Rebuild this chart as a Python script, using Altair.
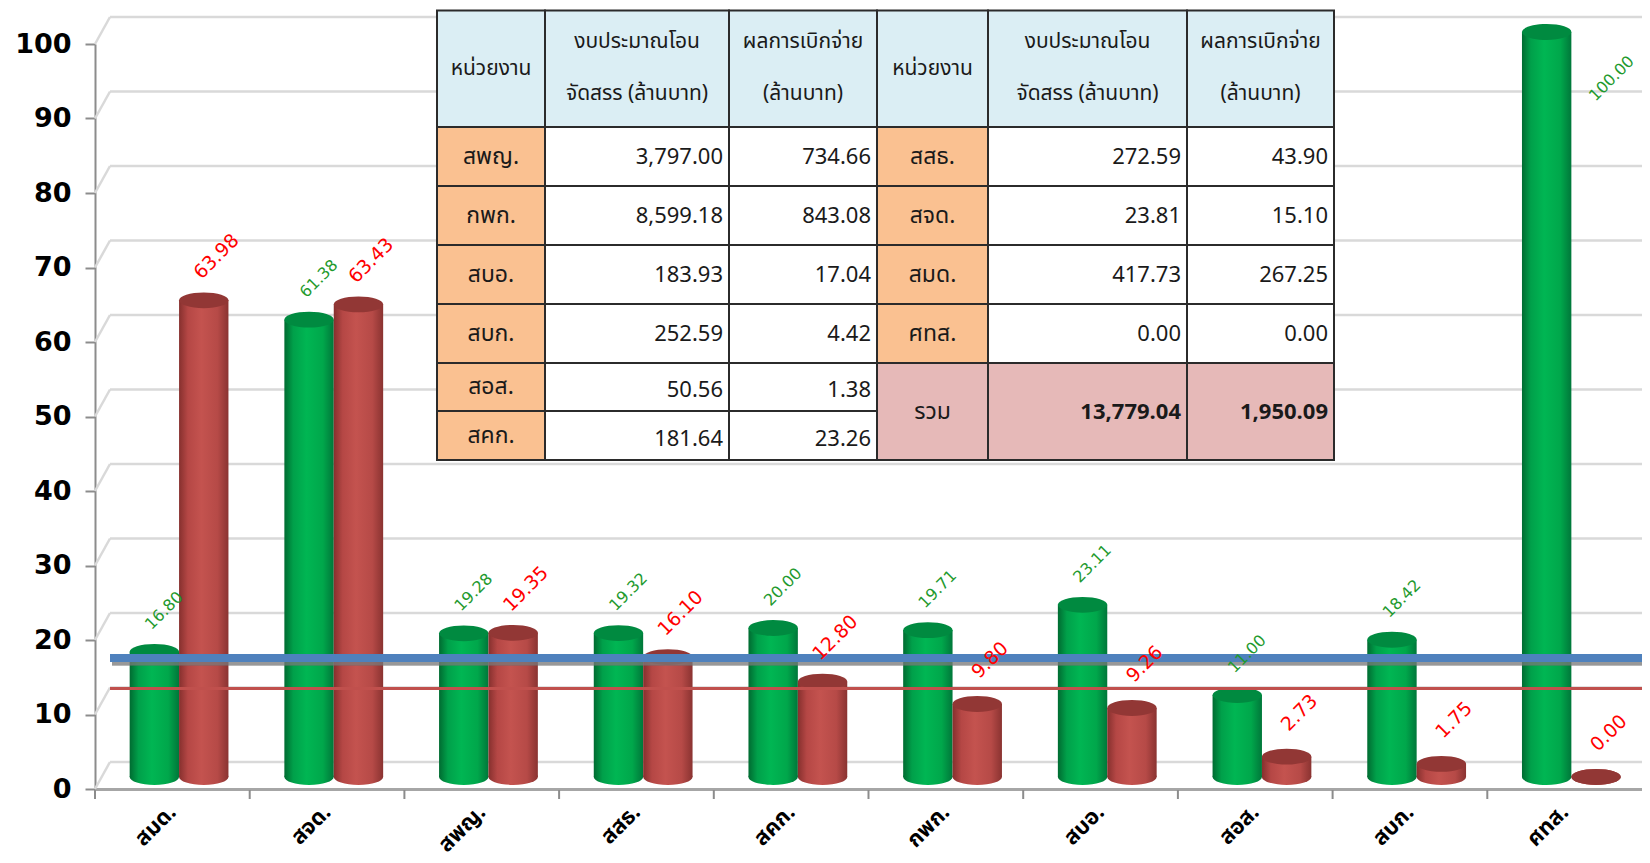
import altair as alt
import pandas as pd

# ---------------- data ----------------
categories = ["สมด.", "สจด.", "สพญ.", "สสธ.", "สคก.", "กพก.", "สบอ.", "สอส.", "สบก.", "ศทส."]
green_values = [16.80, 61.38, 19.28, 19.32, 20.00, 19.71, 23.11, 11.00, 18.42, 100.00]
red_values = [63.98, 63.43, 19.35, 16.10, 12.80, 9.80, 9.26, 2.73, 1.75, 0.00]
y_ticks = [0, 10, 20, 30, 40, 50, 60, 70, 80, 90, 100]
blue_line_value = 17.6
red_line_value = 13.5

table_left_units = ["สพญ.", "กพก.", "สบอ.", "สบก.", "สอส.", "สคก."]
table_left_budget = [3797.00, 8599.18, 183.93, 252.59, 50.56, 181.64]
table_left_disb = [734.66, 843.08, 17.04, 4.42, 1.38, 23.26]
table_right_units = ["สสธ.", "สจด.", "สมด.", "ศทส."]
table_right_budget = [272.59, 23.81, 417.73, 0.00]
table_right_disb = [43.90, 15.10, 267.25, 0.00]
total_budget = 13779.04
total_disb = 1950.09
header_unit = "หน่วยงาน"
header_budget = ["งบประมาณโอน", "จัดสรร (ล้านบาท)"]
header_disb = ["ผลการเบิกจ่าย", "(ล้านบาท)"]
total_label = "รวม"

# ---------------- layout ----------------
W, H = 1547, 745
PL, PT, PB = 87, 36, 66
OX, OY = 8 + PL, 8 + PT
DEPTH = 27          # back-wall offset of gridlines
BAR_LIFT = -12      # bars stand a bit behind the front axis
step = W / len(categories)
pad_o = 0.566
bar_w = step / (2 + 2 * pad_o)
ELLIPSE = "M-1,0A1,0.32,0,1,0,1,0A1,0.32,0,1,0,-1,0Z"

THAI = "Tahoma, 'Noto Sans Thai', 'Leelawadee UI', Loma, Garuda, 'Noto Sans', sans-serif"
NUMF = "'DejaVu Sans', Verdana, sans-serif"

rows = []
for c, g, r in zip(categories, green_values, red_values):
    rows.append({"cat": c, "series": "g", "value": g})
    rows.append({"cat": c, "series": "r", "value": r})
df = pd.DataFrame(rows)
df_ticks = pd.DataFrame({"tick": y_ticks})
df_cats = pd.DataFrame({"cat": categories})

x_axis = alt.Axis(labelAngle=315, labelFont=THAI, labelFontWeight="bold", labelFontSize=22,
                  labelColor="black", ticks=False, tickSize=0, domainColor="#a6a6a6",
                  domainWidth=3, labelPadding=19, title=None, labelAlign="right",
                  labelBaseline="middle")
x_scale = alt.Scale(domain=categories, paddingInner=0, paddingOuter=0)
y_axis = alt.Axis(values=y_ticks, grid=False, labelFont=NUMF, labelFontWeight="bold",
                  labelFontSize=27, labelColor="black", tickColor="#8c8c8c", tickSize=10,
                  tickWidth=2, domainColor="#8c8c8c", domainWidth=2, labelPadding=14,
                  title=None)
y_scale = alt.Scale(domain=[0, 100], nice=False, zero=True)


def X(field="cat:N", **kw):
    return alt.X(field, sort=categories, scale=x_scale, axis=x_axis, **kw)


def Y(field):
    return alt.Y(field, scale=y_scale, axis=y_axis)


xoff = alt.XOffset("series:N", scale=alt.Scale(domain=["g", "r"], paddingInner=0,
                                                paddingOuter=pad_o, align=0.62))

green_grad = alt.LinearGradient(gradient="linear", x1=0, x2=1, y1=0, y2=0, stops=[
    alt.GradientStop(color="#006b31", offset=0),
    alt.GradientStop(color="#00a04a", offset=0.18),
    alt.GradientStop(color="#00b653", offset=0.45),
    alt.GradientStop(color="#00a74b", offset=0.78),
    alt.GradientStop(color="#00773a", offset=1)])
red_grad = alt.LinearGradient(gradient="linear", x1=0, x2=1, y1=0, y2=0, stops=[
    alt.GradientStop(color="#86302e", offset=0),
    alt.GradientStop(color="#b54745", offset=0.18),
    alt.GradientStop(color="#c4534f", offset=0.45),
    alt.GradientStop(color="#b64a47", offset=0.78),
    alt.GradientStop(color="#8a3331", offset=1)])

base = alt.Chart(df)

grid = alt.Chart(df_ticks).mark_rule(color="#d9d9d9", strokeWidth=2.5, yOffset=-DEPTH).encode(
    y=Y("tick:Q"), x=alt.value(15), x2=alt.value(W))
stubs = alt.Chart(df_ticks).mark_rule(color="#d9d9d9", strokeWidth=2.5, y2Offset=-DEPTH).encode(
    y=Y("tick:Q"), y2=alt.Y2("tick:Q"), x=alt.value(0), x2=alt.value(15))

layers = [grid, stubs]
for s, grad, cap in [("g", green_grad, "#008a40"), ("r", red_grad, "#923735")]:
    sub = base.transform_filter(alt.datum.series == s)
    bottom = sub.mark_point(shape=ELLIPSE, size=bar_w ** 2, filled=True, fill=grad, opacity=1,
                            strokeWidth=0, yOffset=BAR_LIFT).encode(
        x=X(), xOffset=xoff, y=alt.datum(0))
    body = sub.mark_bar(fill=grad, yOffset=BAR_LIFT, y2Offset=BAR_LIFT).encode(
        x=X(), xOffset=xoff, y=Y("value:Q"), y2=alt.datum(0))
    top = sub.mark_point(shape=ELLIPSE, size=bar_w ** 2, filled=True, fill=cap, opacity=1,
                         strokeWidth=0, yOffset=BAR_LIFT).encode(
        x=X(), xOffset=xoff, y=Y("value:Q"))
    layers += [bottom, body, top]

shadow = alt.Chart(df_ticks).mark_rule(color="#7f7f7f", opacity=0.12, strokeWidth=5, yOffset=5).encode(
    y=alt.datum(blue_line_value), x=alt.value(17), x2=alt.value(W + 2))
blue = alt.Chart(df_ticks).mark_rule(color="#4f81bd", strokeWidth=7).encode(
    y=alt.datum(blue_line_value), x=alt.value(15), x2=alt.value(W))
redl = alt.Chart(df_ticks).mark_rule(color="#c0504d", strokeWidth=3).encode(
    y=alt.datum(red_line_value), x=alt.value(15), x2=alt.value(W))
layers += [shadow, blue, redl]

ticks = alt.Chart(df_cats).mark_rule(color="#8c8c8c", strokeWidth=2).encode(
    x=X(bandPosition=0), y=alt.value(H + 1), y2=alt.value(H + 10))
layers.append(ticks)

g_lab = base.transform_filter((alt.datum.series == "g") & (alt.datum.value < 90)).mark_text(
    angle=315, align="center", baseline="middle", dx=36, dy=-22, yOffset=BAR_LIFT,
    font=NUMF, fontSize=16, color="#1f9a2e").encode(
    x=X(), xOffset=xoff, y=Y("value:Q"), text=alt.Text("value:Q", format=".2f"))
g_lab_hi = base.transform_filter((alt.datum.series == "g") & (alt.datum.value >= 90)).mark_text(
    angle=315, align="center", baseline="middle", dx=13, dy=79, yOffset=BAR_LIFT,
    font=NUMF, fontSize=16, color="#1f9a2e").encode(
    x=X(), xOffset=xoff, y=Y("value:Q"), text=alt.Text("value:Q", format=".2f"))
r_lab = base.transform_filter(alt.datum.series == "r").mark_text(
    angle=315, align="center", baseline="middle", dx=40, dy=-22, yOffset=BAR_LIFT,
    font=NUMF, fontSize=19, color="#ff0000").encode(
    x=X(), xOffset=xoff, y=Y("value:Q"), text=alt.Text("value:Q", format=".2f"))
layers += [g_lab, g_lab_hi, r_lab]

main = alt.layer(*layers)

# ---------------- table ----------------
col_abs = [437, 545, 729, 877, 988, 1187, 1334]
row_abs = [10.5, 127, 186, 245, 304, 363, 411, 460]
cx = [v - OX for v in col_abs]
ry = [v - OY for v in row_abs]
C_HEAD, C_UNIT, C_TOT, C_WHITE = "#dbeef4", "#fac191", "#e6b9b8", "#ffffff"

cells = []
def cell(c0, c1, r0, r1, fill):
    cells.append({"x": cx[c0], "x2": cx[c1], "y": ry[r0], "y2": ry[r1], "fill": fill})

for c in range(6):
    cell(c, c + 1, 0, 1, C_HEAD)
for i in range(len(table_left_units)):
    cell(0, 1, i + 1, i + 2, C_UNIT)
    cell(1, 2, i + 1, i + 2, C_WHITE)
    cell(2, 3, i + 1, i + 2, C_WHITE)
for i in range(len(table_right_units)):
    cell(3, 4, i + 1, i + 2, C_UNIT)
    cell(4, 5, i + 1, i + 2, C_WHITE)
    cell(5, 6, i + 1, i + 2, C_WHITE)
for c in range(3, 6):
    cell(c, c + 1, 5, 7, C_TOT)
df_cells = pd.DataFrame(cells)

def mid(a, b):
    return (a + b) / 2

head_h = ry[1] - ry[0]
t_center_head = []
for c in (0, 3):
    t_center_head.append({"tx": mid(cx[c], cx[c + 1]), "ty": mid(ry[0], ry[1]), "t": header_unit})
for c, lines in ((1, header_budget), (2, header_disb), (4, header_budget), (5, header_disb)):
    t_center_head.append({"tx": mid(cx[c], cx[c + 1]), "ty": ry[0] + 0.27 * head_h, "t": lines[0]})
    t_center_head.append({"tx": mid(cx[c], cx[c + 1]), "ty": ry[0] + 0.72 * head_h, "t": lines[1]})

t_units = []
t_nums = []
for i, (u, b, d) in enumerate(zip(table_left_units, table_left_budget, table_left_disb)):
    yy = mid(ry[i + 1], ry[i + 2])
    t_units.append({"tx": mid(cx[0], cx[1]), "ty": yy, "t": u})
    t_nums.append({"tx": cx[2] - 6, "ty": yy + (3 if i >= 4 else 0), "t": f"{b:,.2f}"})
    t_nums.append({"tx": cx[3] - 6, "ty": yy + (3 if i >= 4 else 0), "t": f"{d:,.2f}"})
for i, (u, b, d) in enumerate(zip(table_right_units, table_right_budget, table_right_disb)):
    yy = mid(ry[i + 1], ry[i + 2])
    t_units.append({"tx": mid(cx[3], cx[4]), "ty": yy, "t": u})
    t_nums.append({"tx": cx[5] - 6, "ty": yy, "t": f"{b:,.2f}"})
    t_nums.append({"tx": cx[6] - 6, "ty": yy, "t": f"{d:,.2f}"})
yy = mid(ry[5], ry[7])
t_units.append({"tx": mid(cx[3], cx[4]), "ty": yy, "t": total_label})
t_tot = [{"tx": cx[5] - 6, "ty": yy, "t": f"{total_budget:,.2f}"},
         {"tx": cx[6] - 6, "ty": yy, "t": f"{total_disb:,.2f}"}]

PX = lambda f: alt.X(f, scale=None, axis=None)
PY = lambda f: alt.Y(f, scale=None, axis=None)

rects = alt.Chart(df_cells).mark_rect(stroke="#2b2b2b", strokeWidth=2).encode(
    x=PX("x:Q"), x2="x2:Q", y=PY("y:Q"), y2="y2:Q",
    fill=alt.Fill("fill:N", scale=None))
txt_head = alt.Chart(pd.DataFrame(t_center_head)).mark_text(
    font=THAI, fontSize=21, color="#1a1a1a", align="center", baseline="middle").encode(
    x=PX("tx:Q"), y=PY("ty:Q"), text="t:N")
txt_units = alt.Chart(pd.DataFrame(t_units)).mark_text(
    font=THAI, fontSize=23, color="#1a1a1a", align="center", baseline="middle").encode(
    x=PX("tx:Q"), y=PY("ty:Q"), text="t:N")
txt_nums = alt.Chart(pd.DataFrame(t_nums)).mark_text(
    font=THAI, fontSize=22, color="#1a1a1a", align="right", baseline="middle").encode(
    x=PX("tx:Q"), y=PY("ty:Q"), text="t:N")
txt_tot = alt.Chart(pd.DataFrame(t_tot)).mark_text(
    font=THAI, fontSize=22, fontWeight="bold", color="#1a1a1a", align="right",
    baseline="middle").encode(x=PX("tx:Q"), y=PY("ty:Q"), text="t:N")

table = alt.layer(rects, txt_head, txt_units, txt_nums, txt_tot)

chart = alt.layer(main, table).resolve_scale(
    x="independent", y="independent", fill="independent"
).properties(
    width=W, height=H,
    padding={"left": PL, "top": PT, "right": 0, "bottom": PB},
    autosize=alt.AutoSizeParams(type="none"),
    background="white",
).configure_view(stroke=None)

chart.save("out.html", embed_options={"renderer": "svg", "actions": False})
